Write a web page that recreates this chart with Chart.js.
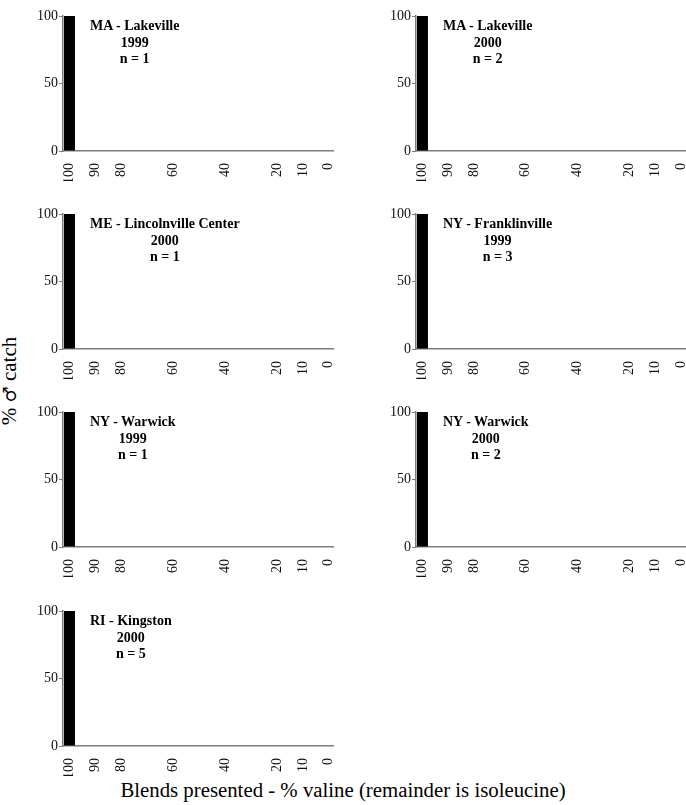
<!DOCTYPE html>
<html>
<head>
<meta charset="utf-8">
<script src="https://cdn.jsdelivr.net/npm/chart.js@4.4.0/dist/chart.umd.min.js"></script>
<style>
  html, body { margin: 0; padding: 0; background: #fff; }
  body { width: 686px; height: 805px; position: relative; overflow: hidden; font-family: "Liberation Serif", "Times New Roman", serif; }
  canvas { position: absolute; }
  .panel-label { position: absolute; font-weight: bold; font-size: 14px; line-height: 16.5px; text-align: center; white-space: pre; color: #000; }
  .y-title { position: absolute; width: 200px; height: 26px; line-height: 26px; text-align: center; font-size: 21px; transform: rotate(-90deg); color: #000; }
  .y-title .sym { font-family: "DejaVu Serif", serif; font-size: 18px; font-weight: normal; }
  .x-title { position: absolute; left: 0; width: 686px; text-align: center; font-size: 20.8px; line-height: 24px; color: #000; }
</style>
</head>
<body>
<div class="y-title" style="left:-91px; top:368px;">% <span class="sym">♂</span> catch</div>
<div class="x-title" style="top:778px;">Blends presented - % valine (remainder is isoleucine)</div>

<script>
// blends on the x axis (% valine)
const blends = [100, 90, 80, 60, 40, 20, 10, 0];
const yTickValues = [0, 50, 100];

const sites = ["MA - Lakeville", "MA - Lakeville", "ME - Lincolnville Center", "NY - Franklinville", "NY - Warwick", "NY - Warwick", "RI - Kingston"];
const years = ["1999", "2000", "2000", "1999", "1999", "2000", "2000"];
const trapCounts = [1, 2, 1, 3, 1, 2, 5];

// % male catch per blend, one list per panel
const catchMaLakeville1999 = [100, 0, 0, 0, 0, 0, 0, 0];
const catchMaLakeville2000 = [100, 0, 0, 0, 0, 0, 0, 0];
const catchMeLincolnville2000 = [100, 0, 0, 0, 0, 0, 0, 0];
const catchNyFranklinville1999 = [100, 0, 0, 0, 0, 0, 0, 0];
const catchNyWarwick1999 = [100, 0, 0, 0, 0, 0, 0, 0];
const catchNyWarwick2000 = [100, 0, 0, 0, 0, 0, 0, 0];
const catchRiKingston2000 = [100, 0, 0, 0, 0, 0, 0, 0];

const panelData = [
  catchMaLakeville1999, catchMaLakeville2000,
  catchMeLincolnville2000, catchNyFranklinville1999,
  catchNyWarwick1999, catchNyWarwick2000,
  catchRiKingston2000,
];

// layout of the plot areas
const colLeft = [63, 416];
const colWidth = [271, 270];
const rowTop = [16, 214, 412, 611];
const plotHeight = 135;
const yAxisWidth = 36;
const xAxisHeight = 30;
const padTop = 8;

const axisColor = "#7d7d7d";
const tickFont = { family: "'Liberation Serif', 'Times New Roman', serif", size: 14 };

function makePanel(i) {
  const col = i % 2;
  const row = Math.floor(i / 2);
  const left = colLeft[col];
  const top = rowTop[row];

  const canvas = document.createElement("canvas");
  canvas.width = yAxisWidth + colWidth[col];
  canvas.height = padTop + plotHeight + xAxisHeight;
  canvas.style.left = left - yAxisWidth + "px";
  canvas.style.top = top - padTop + "px";
  document.body.appendChild(canvas);

  const label = document.createElement("div");
  label.className = "panel-label";
  label.textContent = `${sites[i]}\n${years[i]}\nn = ${trapCounts[i]}`;
  label.style.left = left + 27 + "px";
  label.style.top = top + 2 + "px";
  document.body.appendChild(label);

  const values = panelData[i];

  new Chart(canvas, {
    type: "bar",
    data: {
      datasets: [
        {
          data: blends.map((b, k) => ({ x: b, y: values[k] })),
          backgroundColor: "#000",
          borderWidth: 0,
          inflateAmount: 0,
          barThickness: 11,
        },
      ],
    },
    options: {
      responsive: false,
      animation: false,
      devicePixelRatio: 1,
      layout: { padding: { top: padTop, left: 0, right: 0, bottom: 0 } },
      plugins: {
        legend: { display: false },
        tooltip: { enabled: false },
      },
      scales: {
        x: {
          type: "linear",
          reverse: true,
          offset: false,
          min: -2,
          max: 102.5,
          afterBuildTicks: (scale) => {
            scale.ticks = blends.map((v) => ({ value: v }));
          },
          afterFit: (scale) => {
            scale.height = xAxisHeight;
            scale.paddingLeft = 0;
            scale.paddingRight = 0;
          },
          ticks: {
            autoSkip: false,
            minRotation: 90,
            maxRotation: 90,
            padding: 4,
            color: "#111",
            font: tickFont,
          },
          grid: { display: false },
          border: { display: true, color: axisColor, width: 1.5 },
        },
        y: {
          min: 0,
          max: 100,
          afterBuildTicks: (scale) => {
            scale.ticks = yTickValues.map((v) => ({ value: v }));
          },
          afterFit: (scale) => {
            scale.width = yAxisWidth;
            scale.paddingTop = 0;
            scale.paddingBottom = 0;
          },
          ticks: {
            padding: 1,
            color: "#111",
            font: tickFont,
          },
          grid: {
            drawOnChartArea: false,
            drawTicks: true,
            tickLength: 4,
            color: axisColor,
            lineWidth: 1,
          },
          border: { display: true, color: axisColor, width: 1.5 },
        },
      },
    },
  });
}

panelData.forEach((_, i) => makePanel(i));
</script>
</body>
</html>
